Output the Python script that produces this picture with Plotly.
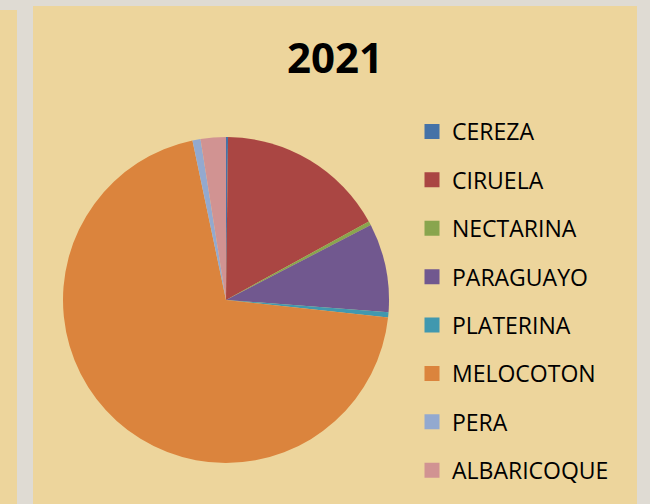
import plotly.graph_objects as go

categories = ["CEREZA", "CIRUELA", "NECTARINA", "PARAGUAYO", "PLATERINA", "MELOCOTON", "PERA", "ALBARICOQUE"]
values = [0.2, 16.8, 0.4, 8.8, 0.5, 70.0, 0.8, 2.5]
colors = ["#4572A7", "#AA4643", "#89A54E", "#71588F", "#4198AF", "#DB843D", "#93A9CF", "#D19392"]
title_text = "2021"

W, H = 650, 504
fig = go.Figure()

fig.add_trace(go.Pie(
    labels=categories, values=values, sort=False, direction="clockwise", rotation=0,
    marker=dict(colors=colors, line=dict(width=0)),
    textinfo="none", hoverinfo="label+percent", showlegend=False,
    domain=dict(x=[63 / W, 389 / W], y=[1 - 463 / H, 1 - 137 / H]),
))

for i, (c, col) in enumerate(zip(categories, colors)):
    fig.add_trace(go.Scatter(
        x=[None], y=[None], mode="markers", name=c, legendgroup=f"g{i}",
        marker=dict(symbol="square", size=12, color=col, line=dict(width=3, color=col)),
        showlegend=True,
    ))

bg = "#DFDBD3"
parch = "#EDD59C"
shapes = [
    dict(type="rect", xref="paper", yref="paper", x0=33 / W, x1=637 / W, y0=0, y1=1 - 6 / H,
         fillcolor=parch, line=dict(width=0), layer="below"),
    dict(type="rect", xref="paper", yref="paper", x0=0, x1=17 / W, y0=0, y1=1 - 10 / H,
         fillcolor=parch, line=dict(width=0), layer="below"),
]

fig.update_layout(
    width=W, height=H,
    margin=dict(l=0, r=0, t=0, b=0),
    paper_bgcolor=bg, plot_bgcolor="rgba(0,0,0,0)",
    shapes=shapes,
    xaxis=dict(visible=False, domain=[0.98, 1]), yaxis=dict(visible=False, domain=[0.98, 1]),
    font=dict(family="Open Sans, sans-serif", color="#000000"),
    annotations=[dict(text=f"<b>{title_text}</b>", x=335 / W, y=1 - 56 / H, xref="paper", yref="paper",
                      showarrow=False, xanchor="center", yanchor="middle",
                      font=dict(size=42, family="Open Sans, sans-serif", color="#000000"))],
    legend=dict(x=412 / W, y=1 - 110 / H, xanchor="left", yanchor="top",
                font=dict(size=23, color="#000000"), bgcolor="rgba(0,0,0,0)",
                tracegroupgap=15.5, itemclick=False, itemdoubleclick=False),
)

fig.write_html("out.html", config={"displayModeBar": False},
               post_script="document.body.style.margin='0';document.body.style.padding='0';")
